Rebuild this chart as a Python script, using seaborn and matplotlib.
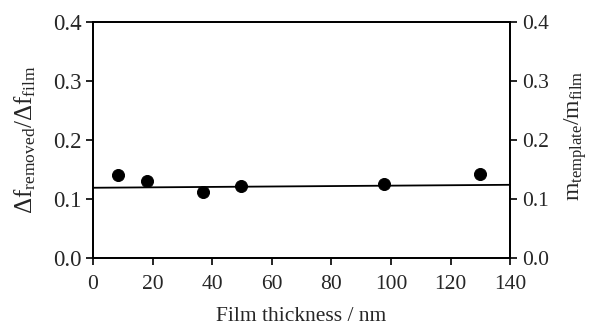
import matplotlib
matplotlib.use('Agg')
import matplotlib.pyplot as plt
import seaborn as sns
import pandas as pd

# Data
thickness = [8.4, 18.2, 37.0, 49.8, 97.6, 130.0]
ratio = [0.141, 0.131, 0.111, 0.122, 0.125, 0.143]
fit_x = [0, 140]
fit_y = [0.119, 0.124]
yticks = [0.0, 0.1, 0.2, 0.3, 0.4]
xticks = [0, 20, 40, 60, 80, 100, 120, 140]

sns.set_style('ticks')
plt.rcParams['font.family'] = ['Liberation Serif', 'DejaVu Serif']
plt.rcParams['mathtext.fontset'] = 'custom'
plt.rcParams['mathtext.rm'] = 'Liberation Serif'
plt.rcParams['mathtext.it'] = 'Liberation Serif'

df = pd.DataFrame({'x': thickness, 'y': ratio})
fit = pd.DataFrame({'x': fit_x, 'y': fit_y})

fig = plt.figure(figsize=(5.89, 3.29), dpi=100)
ax = fig.add_axes([0.158, 0.216, 0.708, 0.717])

sns.lineplot(data=fit, x='x', y='y', ax=ax, color='black', linewidth=1.3)
sns.scatterplot(data=df, x='x', y='y', ax=ax, color='black', s=75, edgecolor='black', zorder=3)

ax.set_xlim(0, 140)
ax.set_ylim(0, 0.4)
ax.set_xticks(xticks)
ax.set_yticks(yticks)
ax.set_yticklabels([f'{v:.1f}' for v in yticks])
ax.set_xlabel('Film thickness / nm', fontsize=15.5, labelpad=10)
ax.set_ylabel(r'$\Delta\mathrm{f}_{\mathrm{removed}}/\Delta\mathrm{f}_{\mathrm{film}}$', fontsize=18)
ax.yaxis.set_label_coords(-0.133, 0.5)
ax.tick_params(direction='out', length=5, width=1.2, labelsize=15.5, color='black')
ax.tick_params(axis='y', labelsize=16.5)
ax.tick_params(axis='x', pad=7)

ax2 = ax.twinx()
ax2.set_ylim(0, 0.4)
ax2.set_yticks(yticks)
ax2.set_yticklabels([f'{v:.1f}' for v in yticks])
ax2.set_ylabel(r'$\mathrm{m}_{\mathrm{template}}/\mathrm{m}_{\mathrm{film}}$', fontsize=17)
ax2.yaxis.set_label_coords(1.125, 0.52)
ax2.tick_params(direction='out', length=5, width=1.2, labelsize=15.5, color='black')

for a in (ax, ax2):
    for s in a.spines.values():
        s.set_linewidth(1.3)
        s.set_color('black')

fig.savefig('out.png', dpi=100)
